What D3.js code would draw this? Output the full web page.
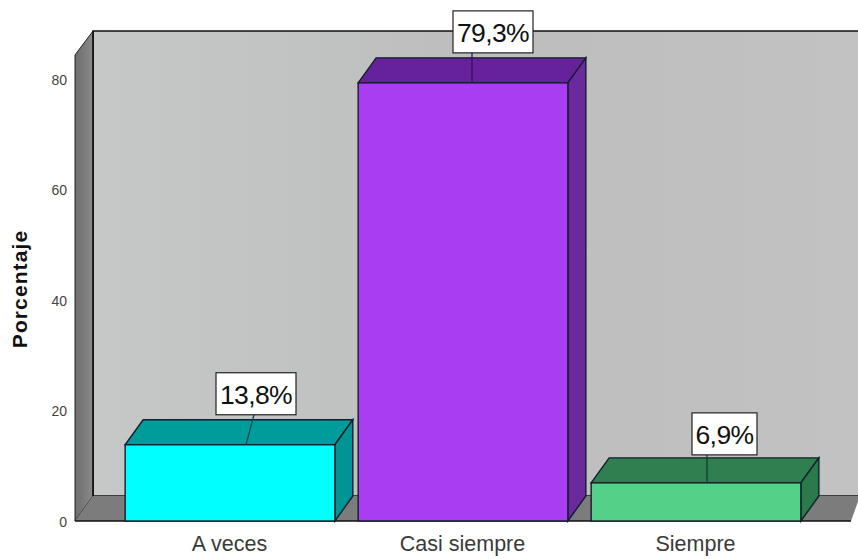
<!DOCTYPE html>
<html><head><meta charset="utf-8">
<script src="https://cdnjs.cloudflare.com/ajax/libs/d3/7.8.5/d3.min.js"></script>
<style>html,body{margin:0;padding:0;background:#fff}svg{display:block}text{font-family:"Liberation Sans",Arial,sans-serif}</style>
</head><body><div id="chart"></div>
<script>
const categories = ["A veces", "Casi siempre", "Siempre"];
const values = [13.8, 79.3, 6.9];
const valueLabels = ["13,8%", "79,3%", "6,9%"];
const yTicks = [0, 20, 40, 60, 80];
const frontColors = ["#00ffff", "#a83df2", "#55d088"];
const topColors = ["#009c9c", "#66229a", "#2f7f50"];
const sideColors = ["#009494", "#6a2a9e", "#2c7a4c"];
const yTitle = "Porcentaje";

const W = 858, H = 559;
const dx = 18, dy = 25;
const x0 = 75, x1 = 851, baseY = 521;
const svg = d3.select("#chart").append("svg").attr("width", W).attr("height", H);
const x = d3.scaleBand().domain(categories).range([113.5, 812.5]).paddingInner(0.1).paddingOuter(0.05);
const y = d3.scaleLinear().domain([0, 80]).range([baseY, 79]);
const line = d3.line();

const defs = svg.append("defs");
const g1 = defs.append("linearGradient").attr("id", "wall");
g1.append("stop").attr("offset", 0).attr("stop-color", "#c6c8c8");
g1.append("stop").attr("offset", 0.5).attr("stop-color", "#bdbdbd");
g1.append("stop").attr("offset", 1).attr("stop-color", "#c2c2c2");
const g2 = defs.append("linearGradient").attr("id", "side");
g2.append("stop").attr("offset", 0).attr("stop-color", "#6d6d6d");
g2.append("stop").attr("offset", 1).attr("stop-color", "#8a8a8a");

// back wall, side wall, floor
svg.append("rect").attr("x", x0 + dx).attr("y", 31).attr("width", W - x0 - dx + 2).attr("height", baseY - dy - 31)
  .attr("fill", "url(#wall)").attr("stroke", "#111").attr("stroke-width", 1.5);
svg.append("path").attr("d", line([[x0, 55], [x0 + dx, 31], [x0 + dx, baseY - dy], [x0, baseY]]) + "Z")
  .attr("fill", "url(#side)").attr("stroke", "#222").attr("stroke-width", 1);
svg.append("path").attr("d", line([[x0, baseY], [x0 + dx, baseY - dy], [W + 2, baseY - dy], [x1, baseY]]) + "Z")
  .attr("fill", "#7c7c7c");
svg.append("line").attr("x1", x0 + dx).attr("x2", x0 + dx).attr("y1", 31).attr("y2", baseY - dy).attr("stroke", "#111").attr("stroke-width", 1.5);
svg.append("line").attr("x1", x0).attr("x2", x1).attr("y1", baseY).attr("y2", baseY).attr("stroke", "#111").attr("stroke-width", 1.5);

// y axis labels
svg.append("g").selectAll("text").data(yTicks).join("text")
  .attr("x", 67).attr("y", d => y(d) + 2).attr("text-anchor", "end").attr("dominant-baseline", "middle")
  .attr("font-size", 14).attr("fill", "#444").text(d => d);
svg.append("text").attr("transform", "translate(27,289) rotate(-90)").attr("text-anchor", "middle")
  .attr("font-size", 21).attr("font-weight", "bold").attr("letter-spacing", 1.1).attr("fill", "#111").text(yTitle);

// bars
const bars = svg.append("g").selectAll("g").data(categories).join("g");
bars.append("path").attr("d", (c, i) => { const a = x(c), b = a + x.bandwidth(), t = y(values[i]);
    return line([[a, t], [a + dx, t - dy], [b + dx, t - dy], [b, t]]) + "Z"; })
  .attr("fill", (c, i) => topColors[i]).attr("stroke", "#10202a").attr("stroke-width", 1.4);
bars.append("path").attr("d", (c, i) => { const b = x(c) + x.bandwidth(), t = y(values[i]);
    return line([[b, t], [b + dx, t - dy], [b + dx, baseY - dy], [b, baseY]]) + "Z"; })
  .attr("fill", (c, i) => sideColors[i]).attr("stroke", "#10202a").attr("stroke-width", 1.4);
bars.append("rect").attr("x", c => x(c)).attr("y", (c, i) => y(values[i])).attr("width", x.bandwidth())
  .attr("height", (c, i) => baseY - y(values[i])).attr("fill", (c, i) => frontColors[i])
  .attr("stroke", "#10202a").attr("stroke-width", 1.4);

// labels with leader lines
const boxOffset = [26, 30, 28.5];
const leaderTop = [24, 9, 11];
const leaderBottom = [16, 9, 11];
const boxW = [80, 80, 65];
const boxH = 42;
const labels = svg.append("g").selectAll("g").data(categories).join("g");
const cx = c => x(c) + x.bandwidth() / 2;
const boxBottom = (i) => y(values[i]) - (i === 2 ? 28 : 30);
labels.append("line")
  .attr("x1", (c, i) => cx(c) + leaderTop[i]).attr("y1", (c, i) => boxBottom(i))
  .attr("x2", (c, i) => cx(c) + leaderBottom[i]).attr("y2", (c, i) => y(values[i]))
  .attr("stroke", (c, i) => ["#0a4a55", "#3a0f66", "#123f28"][i]).attr("stroke-width", 1.3);
labels.append("rect")
  .attr("x", (c, i) => cx(c) + boxOffset[i] - boxW[i] / 2).attr("y", (c, i) => boxBottom(i) - boxH)
  .attr("width", (c, i) => boxW[i]).attr("height", boxH)
  .attr("fill", "#fff").attr("stroke", "#222").attr("stroke-width", 1.2);
labels.append("text")
  .attr("x", (c, i) => cx(c) + boxOffset[i]).attr("y", (c, i) => boxBottom(i) - 11)
  .attr("text-anchor", "middle").attr("font-size", 26.5).attr("letter-spacing", -0.6).attr("fill", "#111").text((c, i) => valueLabels[i]);

// category labels
svg.append("g").selectAll("text").data(categories).join("text")
  .attr("x", c => cx(c) - 0.5).attr("y", 551).attr("text-anchor", "middle")
  .attr("font-size", 21.5).attr("fill", "#3a3a3a").text(c => c);
</script></body></html>
